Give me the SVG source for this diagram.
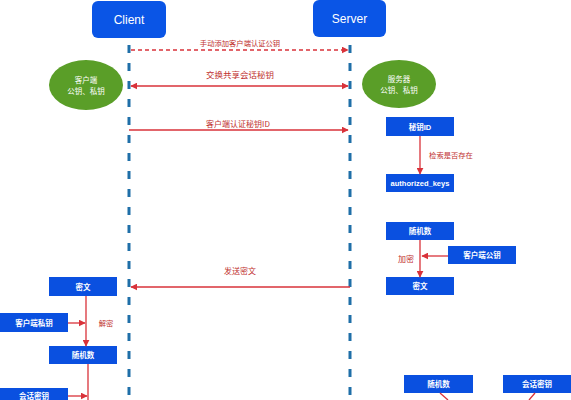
<svg xmlns="http://www.w3.org/2000/svg" width="571" height="400" viewBox="0 0 571 400">
<defs>
<style>
.hdr{fill:#0a55e6}
.hdrt{fill:#fff;font-family:"Liberation Sans",Arial,sans-serif;font-size:12px;text-anchor:middle}
.life{stroke:#1f6fa8;stroke-width:3;stroke-dasharray:8 10;fill:none}
.box{fill:#0a50e0}
.bt{fill:#fff;font-family:"Liberation Sans","Noto Sans CJK SC",sans-serif;font-size:7.5px;font-weight:bold;text-anchor:middle}
.ell{fill:#5a9e28}
.et{fill:#fff;font-family:"Noto Sans CJK SC",sans-serif;font-size:7.5px;text-anchor:middle}
.ar{stroke:#d9323a;stroke-width:1.3;fill:none}
.lbl{fill:#c0302e;font-family:"Noto Sans CJK SC",sans-serif;font-size:8px;text-anchor:middle}
</style>
<marker id="ah" viewBox="0 0 10 10" refX="9" refY="5" markerWidth="7" markerHeight="7" markerUnits="userSpaceOnUse" orient="auto-start-reverse">
<path d="M0,0 L10,5 L0,10 z" fill="#d9323a"/>
</marker>
</defs>
<rect width="571" height="400" fill="#fff"/>
<g id="client"><rect class="hdr" x="92" y="1" width="74" height="37" rx="6"/><text class="hdrt" x="129" y="24">Client</text></g>
<g id="server"><rect class="hdr" x="313" y="0" width="73" height="37" rx="6"/><text class="hdrt" x="349.5" y="23">Server</text></g>
<g id="lifelines">
<line class="life" x1="129" y1="45" x2="129" y2="400"/>
<line class="life" x1="350" y1="45" x2="350" y2="400"/>
</g>
<g id="client-keys"><ellipse class="ell" cx="86" cy="85" rx="37" ry="25"/><text class="et" x="86" y="83">客户端</text><text class="et" x="86" y="94">公钥、私钥</text></g>
<g id="server-keys"><ellipse class="ell" cx="399" cy="84" rx="37" ry="24"/><text class="et" x="399" y="82">服务器</text><text class="et" x="399" y="93">公钥、私钥</text></g>
<g id="s-keyid"><rect class="box" x="386" y="117" width="68" height="19"/><text class="bt" x="420" y="129.5">秘钥ID</text></g>
<g id="s-authkeys"><rect class="box" x="386" y="174" width="68" height="18"/><text class="bt" x="420" y="186">authorized_keys</text></g>
<g id="s-rand"><rect class="box" x="386" y="222" width="68" height="18"/><text class="bt" x="420" y="234">随机数</text></g>
<g id="s-pub"><rect class="box" x="448" y="246" width="68" height="18"/><text class="bt" x="482" y="258">客户端公钥</text></g>
<g id="s-cipher"><rect class="box" x="386" y="277" width="68" height="18"/><text class="bt" x="420" y="289">密文</text></g>
<g id="c-cipher"><rect class="box" x="49" y="277" width="68" height="19"/><text class="bt" x="83" y="289.5">密文</text></g>
<g id="c-priv"><rect class="box" x="0" y="313" width="68" height="19"/><text class="bt" x="34" y="325.5">客户端私钥</text></g>
<g id="c-rand"><rect class="box" x="49" y="346" width="68" height="18"/><text class="bt" x="83" y="358">随机数</text></g>
<g id="c-session"><rect class="box" x="0" y="388" width="68" height="18"/><text class="bt" x="34" y="398.5">会话密钥</text></g>
<g id="b-rand"><rect class="box" x="404" y="375" width="69" height="18"/><text class="bt" x="438.5" y="387">随机数</text></g>
<g id="b-session"><rect class="box" x="503" y="375" width="68" height="18"/><text class="bt" x="537" y="387">会话密钥</text></g>
<g id="connectors">
<line class="ar" x1="131" y1="50" x2="348" y2="50" stroke-dasharray="4 3" marker-end="url(#ah)"/>
<text class="lbl" x="240" y="46" style="font-size:7.3px">手动添加客户端认证公钥</text>
<line class="ar" x1="131" y1="86" x2="348" y2="86" marker-start="url(#ah)" marker-end="url(#ah)"/>
<text class="lbl" x="240" y="78" style="font-size:8.5px">交换共享会话秘钥</text>
<line class="ar" x1="129" y1="130" x2="348" y2="130" marker-end="url(#ah)"/>
<text class="lbl" x="238" y="127">客户端认证秘钥ID</text>
<line class="ar" x1="350" y1="287" x2="131" y2="287" marker-end="url(#ah)"/>
<text class="lbl" x="240" y="274">发送密文</text>
<line class="ar" x1="420" y1="136" x2="420" y2="174" marker-end="url(#ah)"/>
<text class="lbl" x="451" y="158" style="font-size:7.3px">检索是否存在</text>
<line class="ar" x1="420" y1="240" x2="420" y2="277" marker-end="url(#ah)"/>
<text class="lbl" x="406" y="262">加密</text>
<line class="ar" x1="448" y1="256" x2="422" y2="256" marker-end="url(#ah)"/>
<line class="ar" x1="86" y1="296" x2="86" y2="346" marker-end="url(#ah)"/>
<line class="ar" x1="68" y1="323" x2="85" y2="323" marker-end="url(#ah)"/>
<text class="lbl" x="106" y="326" style="font-size:7.3px">解密</text>
<line class="ar" x1="88" y1="364" x2="88" y2="400"/>
<line class="ar" x1="68" y1="396" x2="87" y2="396" marker-end="url(#ah)"/>
<line class="ar" x1="440" y1="393" x2="448" y2="400"/>
<line class="ar" x1="535" y1="393" x2="529" y2="400"/>
</g>
</svg>
